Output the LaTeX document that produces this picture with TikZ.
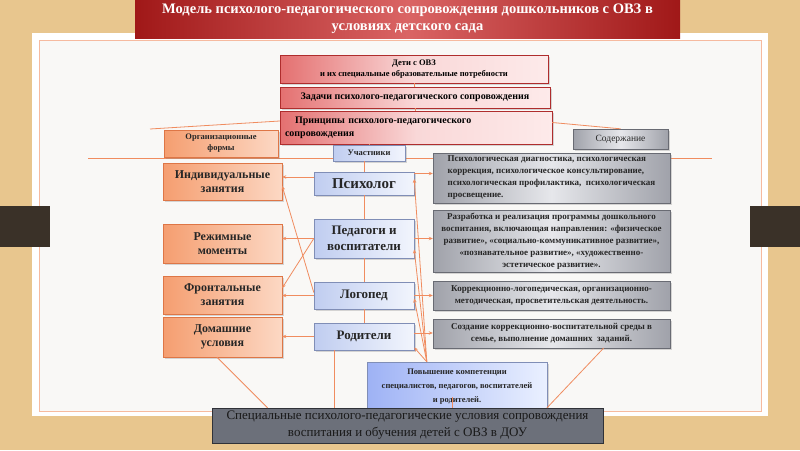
\documentclass[tikz,border=0pt]{standalone}
\usepackage{fontspec}
\setmainfont{Liberation Serif}
\usetikzlibrary{arrows.meta,positioning,shadows}
\definecolor{mvtan}{RGB}{232,198,142}
\definecolor{mvpanel}{RGB}{249,248,246}
\definecolor{mvtab}{RGB}{58,49,40}
\definecolor{mvline}{RGB}{240,140,95}
\definecolor{mvred}{RGB}{160,24,24}
\definecolor{mvredmid}{RGB}{218,100,100}
\definecolor{mvpinkd}{RGB}{228,112,112}
\definecolor{mvpinkl}{RGB}{253,234,234}
\definecolor{mvpinkline}{RGB}{175,45,45}
\definecolor{mvorange}{RGB}{245,158,112}
\definecolor{mvorangel}{RGB}{252,216,196}
\definecolor{mvorangeline}{RGB}{222,118,70}
\definecolor{mvblued}{RGB}{192,205,240}
\definecolor{mvbluel}{RGB}{242,245,253}
\definecolor{mvblueline}{RGB}{128,142,182}
\definecolor{mvgrayd}{RGB}{160,162,170}
\definecolor{mvgrayl}{RGB}{230,231,235}
\definecolor{mvgrayline}{RGB}{105,107,115}
\definecolor{mvpovd}{RGB}{158,178,245}
\definecolor{mvpovl}{RGB}{234,240,255}
\definecolor{mvspec}{RGB}{108,112,122}
\definecolor{mvspecline}{RGB}{48,50,56}
\tikzset{
  mvshadow/.style={drop shadow={opacity=.3, shadow xshift=1.5pt, shadow yshift=-1.5pt}},
  mvtitle/.style={fill=mvred, left color=mvred, right color=mvred, middle color=mvredmid, text=white, align=center, font=\fontsize{14.5}{17.5}\selectfont\bfseries, minimum width=545pt, minimum height=38pt, inner sep=0pt},
  mvpink/.style={mvshadow, draw=mvpinkline, fill=mvpinkd, left color=mvpinkd, right color=mvpinkl, middle color=mvpinkl!85!mvpinkd, align=center, inner sep=2pt, font=\bfseries},
  mvorg/.style={mvshadow, draw=mvorangeline, fill=mvorange, left color=mvorange, right color=mvorangel, align=center, inner sep=2pt, text=black!85, font=\fontsize{12}{14}\selectfont\bfseries, minimum width=119pt},
  mvpart/.style={mvshadow, draw=mvblueline, fill=mvblued, left color=mvblued, right color=mvbluel, align=center, inner sep=2pt, text=black!85, font=\fontsize{13}{15.5}\selectfont\bfseries, minimum width=100pt},
  mvcont/.style={mvshadow, draw=mvgrayline, fill=mvgrayd, left color=mvgrayd, right color=mvgrayd, middle color=mvgrayl, align=center, inner sep=2pt, text=black!85, font=\fontsize{9}{12}\selectfont\bfseries, minimum width=237pt},
  mvpov/.style={mvshadow, draw=mvblueline, fill=mvpovd, left color=mvpovd, right color=mvpovl, align=center, inner sep=2pt, text=black!85, font=\fontsize{8.5}{14}\selectfont\bfseries, minimum width=180pt, minimum height=50pt},
  mvspecbox/.style={draw=mvspecline, fill=mvspec, align=center, inner sep=2pt, text=black!90, font=\fontsize{13}{17}\selectfont, minimum width=391pt, minimum height=35pt},
  mvlink/.style={draw=mvline, line width=.8pt},
  mvarr/.style={-{Stealth[length=4pt, width=3.5pt]}, draw=mvline, line width=.8pt}
}
\begin{document}
\begin{tikzpicture}[x=1pt, y=-1pt]
  \useasboundingbox (0,0) rectangle (800,450);
  % background and frame
  \fill[mvtan] (0,0) rectangle (800,450);
  \fill[white] (32,33) rectangle (768,416);
  \fill[mvpanel] (39,40) rectangle (761,411);
  \draw[mvline!60, line width=.6pt] (39,40) rectangle (761,411);
  \fill[mvtab] (0,206) rectangle (50,247);
  \fill[mvtab] (750,206) rectangle (800,247);

  \node[mvtitle] (title) at (407.5,19) {Модель психолого-педагогического сопровождения дошкольников с ОВЗ в\\условиях детского сада};

  \coordinate (hl) at (88,158);
  \coordinate (hr) at (712,158);
  \coordinate (orgend) at (150,129);
  \draw[mvlink] (hl) -- (hr);

  \node[mvpink, font=\fontsize{8.5}{11}\selectfont\bfseries, minimum width=268pt, minimum height=28pt] (deti) at (414,69) {Дети с ОВЗ\\и их специальные образовательные потребности};
  \node[mvpink, font=\fontsize{10}{12}\selectfont\bfseries, minimum width=270pt, minimum height=21pt] (zadachi) at (415,97.5) {Задачи психолого-педагогического сопровождения};
  \node[mvpink, font=\fontsize{10}{13}\selectfont\bfseries, text width=262pt, inner xsep=5pt, align=left, minimum height=33pt] (princ) at (416,127.5) {\hspace*{10pt}Принципы психолого-педагогического\\сопровождения};
  \draw[mvlink] (deti) -- (zadachi);
  \draw[mvlink] (zadachi) -- (princ);
  \draw[mvlink] ([yshift=6.5pt]princ.west) -- (orgend);

  \node[mvorg, font=\fontsize{8.5}{11}\selectfont\bfseries, minimum width=114pt, minimum height=27pt] (orgforms) at (221,143.5) {Организационные\\формы};
  \node[mvcont, font=\fontsize{9.5}{11}\selectfont, minimum width=95pt, minimum height=20pt] (sodergh) at (620.5,139) {Содержание};
  \draw[mvlink] ([yshift=5pt]princ.east) -- (sodergh.north);

  \node[mvpart, font=\fontsize{8.5}{10}\selectfont\bfseries, minimum width=72pt, minimum height=16pt] (uchastniki) at (369,153) {Участники};
  \draw[mvlink] (uchastniki.north) -- (uchastniki.north |- princ.south);

  % participants
  \node[mvpart, font=\fontsize{15}{17}\selectfont\bfseries, minimum height=23pt] (psiholog) at (364,183.5) {Психолог};
  \node[mvpart, minimum height=39pt] (pedagogi) at (364,238.5) {Педагоги и\\воспитатели};
  \node[mvpart, minimum height=27pt] (logoped) at (364,295.5) {Логопед};
  \node[mvpart, minimum height=27pt] (roditeli) at (364,336.5) {Родители};
  \draw[mvlink] (psiholog.north) -- (psiholog.north |- uchastniki.south);
  \foreach \a/\b in {psiholog/pedagogi,pedagogi/logoped,logoped/roditeli}
    \draw[mvlink] (\a) -- (\b);

  % forms
  \node[mvorg, minimum height=37pt] (ind) at (222.5,181.5) {Индивидуальные\\занятия};
  \node[mvorg, minimum height=39pt] (rezh) at (222.5,243.5) {Режимные\\моменты};
  \node[mvorg, minimum height=38pt] (front) at (222.5,295) {Фронтальные\\занятия};
  \node[mvorg, minimum height=40pt] (dom) at (222.5,337) {Домашние\\условия};

  % content
  \node[mvcont, align=left, minimum height=50pt] (psihdiag) at (551.5,178) {Психологическая диагностика, психологическая\\коррекция, психологическое консультирование,\\психологическая профилактика,\ \ психологическая\\просвещение.};
  \node[mvcont, minimum height=62pt] (razrab) at (551.5,241) {Разработка и реализация программы дошкольного\\воспитания, включающая направления: «физическое\\развитие», «социально-коммуникативное развитие»,\\«познавательное развитие», «художественно-\\эстетическое развитие».};
  \node[mvcont, minimum height=29pt] (korr) at (551.5,295.5) {Коррекционно-логопедическая, организационно-\\методическая, просветительская деятельность.};
  \node[mvcont, minimum height=29pt] (sozd) at (551.5,333.5) {Создание коррекционно-воспитательной среды в\\семье, выполнение домашних\ \ заданий.};

  \foreach \a/\b/\s in {psiholog/ind/6.5,pedagogi/rezh/0,logoped/front/0,roditeli/dom/0} {
    \path ([yshift=\s pt]\a.west) coordinate (from);
    \draw[mvarr] (from) -- (from -| \b.east);
  }
  \foreach \a/\b/\s in {psiholog/psihdiag/10,pedagogi/razrab/0,logoped/korr/0,roditeli/sozd/3.5} {
    \path ([yshift=\s pt]\a.east) coordinate (from);
    \draw[mvarr] (from) -- (from -| \b.west);
  }
  \draw[mvarr] (pedagogi.west) -- ([yshift=7pt]front.east);
  \draw[mvarr] ([yshift=3pt]logoped.west) -- ([yshift=-4.5pt]ind.east);

  \node[mvpov] (pov) at (457,387) {Повышение компетенции\\специалистов, педагогов, воспитателей\\и родителей.};
  \coordinate (fan) at ([xshift=60pt]pov.north west);
  \foreach \p/\s in {psiholog/4.5,pedagogi/-11,logoped/-3,roditeli/-11}
    \draw[mvarr] (fan) -- ([yshift=\s pt]\p.east);

  \node[mvspecbox] (spec) at (407.5,425.5) {Специальные психолого-педагогические условия сопровождения\\воспитания и обучения детей с ОВЗ в ДОУ};
  \draw[mvlink] ([xshift=-5.5pt]dom.south) -- ([xshift=-140pt]spec.north);
  \path ([xshift=-30pt]roditeli.south) coordinate (rdown);
  \draw[mvlink] (rdown) -- (rdown |- spec.north);
  \draw[mvlink] ([xshift=52pt]sozd.south) -- ([xshift=139.5pt]spec.north);
  \path ([xshift=44.5pt]spec.north) coordinate (povdown);
  \draw[mvlink] (povdown) -- ++(0,-11);
\end{tikzpicture}
\end{document}
